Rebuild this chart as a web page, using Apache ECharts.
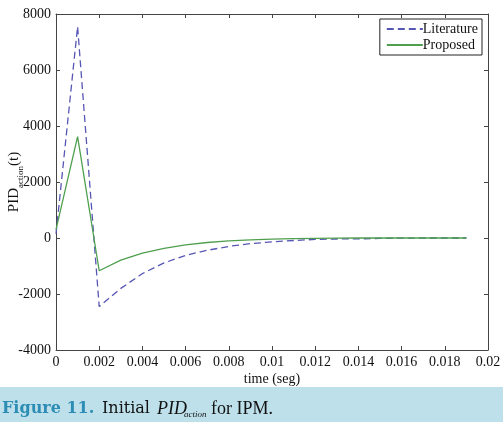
<!DOCTYPE html>
<html>
<head>
	<meta charset="UTF-8">
	<title>Initial PID action for IPM</title>
	<script src="https://cdn.jsdelivr.net/npm/echarts@6/dist/echarts.min.js"></script>
	<style>
		html, body { margin: 0; padding: 0; background: #fff; }
		#chart { width: 503px; height: 422px; }
	</style>
</head>
<body>
	<div id="chart"></div>
	<script>
		// tiempo de muestreo (s)
		var timeSec = [0, 0.001, 0.002, 0.003, 0.004, 0.005, 0.006, 0.007, 0.008, 0.009,
			0.010, 0.011, 0.012, 0.013, 0.014, 0.015, 0.016, 0.017, 0.018, 0.019];
		var literature = [150, 7550, -2450, -1800, -1270, -890, -620, -440, -300, -200,
			-140, -90, -50, -35, -30, -15, -5, 0, 0, 0];
		var proposed = [300, 3620, -1170, -790, -540, -370, -245, -160, -105, -65,
			-40, -20, -10, -5, 0, 0, 0, 0, 0, 0];
		var legendNames = ['Literature', 'Proposed'];

		function pairs(vals) {
			var out = [];
			for (var i = 0; i < vals.length; i++) {
				out.push([timeSec[i], vals[i]]);
			}
			return out;
		}

		var serif = '"Liberation Serif", "DejaVu Serif", serif';
		var dvSerif = '"DejaVu Serif", serif';
		var axisColor = '#444';

		var chart = echarts.init(document.getElementById('chart'));

		var option = {
			animation: false,
			backgroundColor: '#fff',
			textStyle: { fontFamily: serif },
			grid: { left: 56, right: 15, top: 14, bottom: 72, outerBoundsMode: 'none' },
			legend: {
				data: legendNames,
				orient: 'vertical',
				right: 21,
				top: 19,
				itemWidth: 36,
				itemHeight: 10,
				itemGap: 2,
				padding: [3, 4, 3, 6],
				borderColor: '#222',
				borderWidth: 1,
				backgroundColor: '#fff',
				itemStyle: { opacity: 0 },
				textStyle: { fontFamily: serif, fontSize: 14, color: '#111', padding: [0, 0, 0, -5] }
			},
			graphic: [{
				type: 'rect',
				left: 0,
				top: 387,
				shape: { width: 503, height: 35 },
				style: { fill: '#bde0ea' }
			}, {
				// pie de figura
				type: 'text',
				left: 2,
				top: 401,
				style: { text: 'Figure 11.', fontFamily: dvSerif, fontSize: 16, fontWeight: 'bold', fill: '#2e8db5' }
			}, {
				type: 'text',
				left: 102,
				top: 401,
				style: { text: 'Initial', fontFamily: dvSerif, fontSize: 16, fill: '#111' }
			}, {
				type: 'text',
				left: 157,
				top: 400,
				style: { text: 'PID', fontFamily: serif, fontSize: 18, fontStyle: 'italic', fill: '#111' }
			}, {
				type: 'text',
				left: 184,
				top: 410,
				style: { text: 'action', fontFamily: serif, fontSize: 9, fontStyle: 'italic', fill: '#111' }
			}, {
				type: 'text',
				left: 211,
				top: 400,
				style: { text: 'for IPM.', fontFamily: serif, fontSize: 18, fill: '#111' }
			}],
			xAxis: [{
				type: 'value',
				min: 0,
				max: 0.02,
				interval: 0.002,
				name: 'time (seg)',
				nameLocation: 'middle',
				nameGap: 22,
				nameMoveOverlap: false,
				nameTextStyle: { fontFamily: serif, fontSize: 14, color: '#111' },
				axisLine: { show: true, onZero: false, lineStyle: { color: axisColor, width: 1 } },
				axisTick: { show: true, inside: true, length: 4, lineStyle: { color: axisColor } },
				axisLabel: {
					margin: 5,
					fontFamily: serif,
					fontSize: 14,
					color: '#111',
					formatter: function (v) { return String(parseFloat(v.toFixed(3))); }
				},
				splitLine: { show: false }
			}, {
				type: 'value',
				position: 'top',
				min: 0,
				max: 0.02,
				interval: 0.002,
				axisLine: { show: true, onZero: false, lineStyle: { color: axisColor, width: 1 } },
				axisTick: { show: true, inside: true, length: 4, lineStyle: { color: axisColor } },
				axisLabel: { show: false },
				splitLine: { show: false }
			}],
			yAxis: [{
				type: 'value',
				min: -4000,
				max: 8000,
				interval: 2000,
				name: '{n|PID}{s|action}{n|(t)}',
				nameLocation: 'middle',
				nameGap: 34,
				nameMoveOverlap: false,
				nameRotate: 90,
				nameTextStyle: {
					rich: {
						n: { fontFamily: serif, fontSize: 15, color: '#111', lineHeight: 18, verticalAlign: 'bottom' },
						s: { fontFamily: serif, fontSize: 9, color: '#111', lineHeight: 8, verticalAlign: 'bottom', padding: [0, 0, -3, 0] }
					}
				},
				axisLine: { show: true, onZero: false, lineStyle: { color: axisColor, width: 1 } },
				axisTick: { show: true, inside: true, length: 4, lineStyle: { color: axisColor } },
				axisLabel: {
					margin: 5,
					fontFamily: serif,
					fontSize: 14,
					color: '#111',
					formatter: function (v) { return String(v); }
				},
				splitLine: { show: false }
			}, {
				type: 'value',
				position: 'right',
				min: -4000,
				max: 8000,
				interval: 2000,
				axisLine: { show: true, onZero: false, lineStyle: { color: axisColor, width: 1 } },
				axisTick: { show: true, inside: true, length: 4, lineStyle: { color: axisColor } },
				axisLabel: { show: false },
				splitLine: { show: false }
			}],
			series: [{
				name: legendNames[0],
				type: 'line',
				data: pairs(literature),
				symbol: 'none',
				color: '#5656b4',
				lineStyle: { color: '#5656b4', width: 1.3, type: [7, 4] }
			}, {
				name: legendNames[1],
				type: 'line',
				data: pairs(proposed),
				symbol: 'none',
				color: '#4f9f4f',
				lineStyle: { color: '#4f9f4f', width: 1.3 }
			}]
		};

		chart.setOption(option);
	</script>
</body>
</html>
